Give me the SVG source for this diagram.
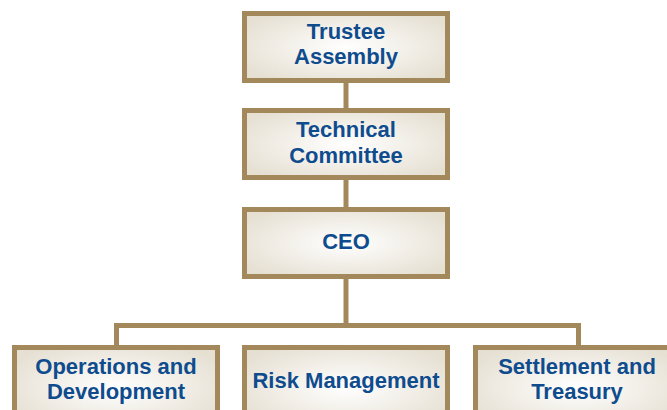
<svg xmlns="http://www.w3.org/2000/svg" width="667" height="410" viewBox="0 0 667 410">
<defs>
<radialGradient id="g" cx="50%" cy="50%" r="60%">
<stop offset="0" stop-color="#ffffff"/>
<stop offset="1" stop-color="#e6e0d3"/>
</radialGradient>
<style>
.box{fill:url(#g);stroke:#a2885a;stroke-width:5}
.t{font-family:"Liberation Sans",Arial,sans-serif;font-weight:bold;font-size:22px;fill:#0f4c8e;text-anchor:middle}
.c{stroke:#a2885a;stroke-width:5;fill:none}
</style>
</defs>
<rect width="667" height="410" fill="#ffffff"/>
<g id="connectors">
<line class="c" x1="346" y1="82" x2="346" y2="108"/>
<line class="c" x1="346" y1="180" x2="346" y2="207"/>
<line class="c" x1="346" y1="279" x2="346" y2="326"/>
<polyline class="c" points="116.5,346 116.5,325.5 578.5,325.5 578.5,346"/>
</g>
<g id="trustee">
<rect class="box" x="244.5" y="13.5" width="203" height="67"/>
<text class="t" x="346" y="39">Trustee</text>
<text class="t" x="346" y="64">Assembly</text>
</g>
<g id="technical">
<rect class="box" x="244.5" y="110.5" width="203" height="67"/>
<text class="t" x="346" y="137">Technical</text>
<text class="t" x="346" y="163">Committee</text>
</g>
<g id="ceo">
<rect class="box" x="244.5" y="209.5" width="203" height="67"/>
<text class="t" x="346" y="249">CEO</text>
</g>
<g id="operations">
<rect class="box" x="14.5" y="347.5" width="203" height="80"/>
<text class="t" x="116" y="374">Operations and</text>
<text class="t" x="116" y="399">Development</text>
</g>
<g id="risk">
<rect class="box" x="244.5" y="347.5" width="203" height="80"/>
<text class="t" x="346" y="388">Risk Management</text>
</g>
<g id="settlement">
<rect class="box" x="475.5" y="347.5" width="203" height="80"/>
<text class="t" x="577" y="374">Settlement and</text>
<text class="t" x="577" y="399">Treasury</text>
</g>
</svg>
